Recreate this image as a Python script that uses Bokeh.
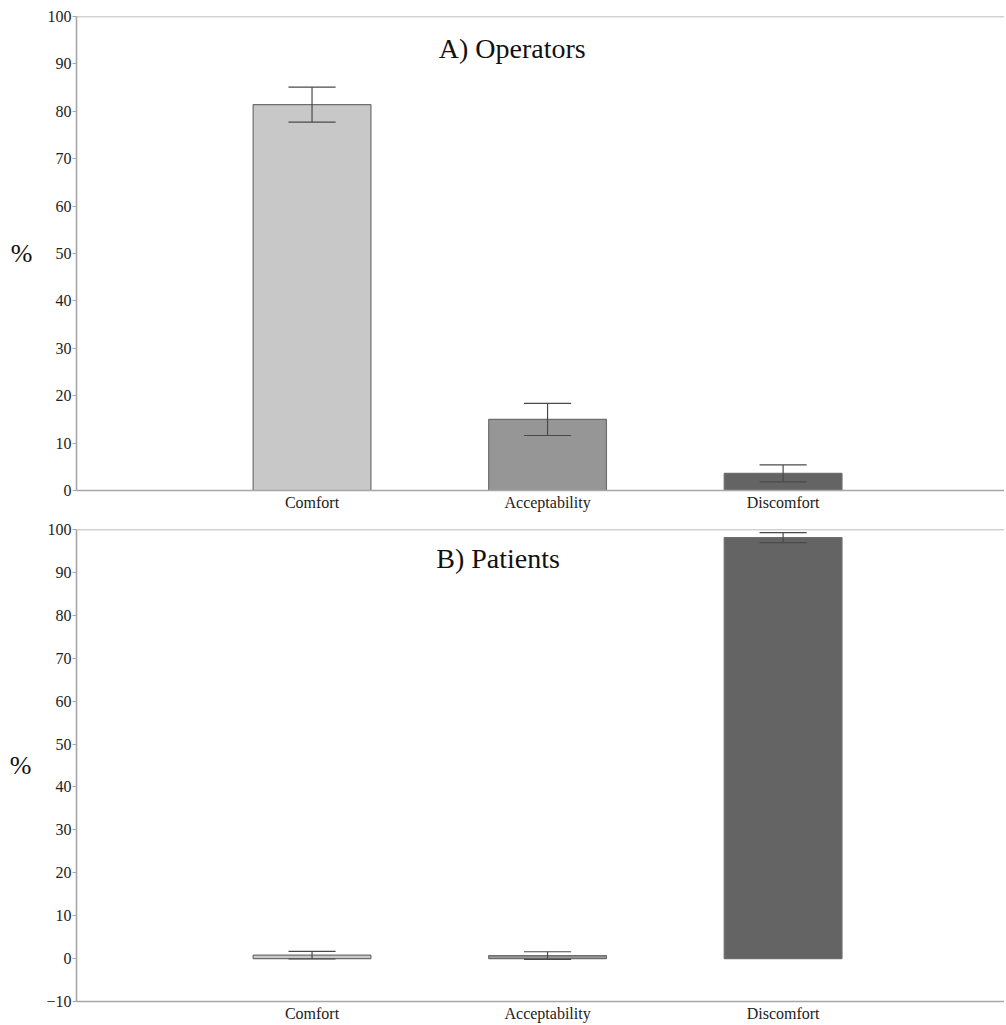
from bokeh.plotting import figure
from bokeh.layouts import column
from bokeh.models import Range1d, FixedTicker, Span, ColumnDataSource
from bokeh.core.properties import value
from bokeh.embed import file_html
from bokeh.resources import INLINE

categories = ["Comfort", "Acceptability", "Discomfort"]
positions = [1, 2, 3]
colors = ["#c8c8c8", "#969696", "#646464"]

operators_values = [81.4, 15.0, 3.6]
operators_err = [3.7, 3.4, 1.8]

patients_values = [0.8, 0.7, 98.1]
patients_err = [0.9, 0.9, 1.15]

y_ticks_top = [0, 10, 20, 30, 40, 50, 60, 70, 80, 90, 100]
y_ticks_bottom = [-10, 0, 10, 20, 30, 40, 50, 60, 70, 80, 90, 100]

AXIS_FONT = "Liberation Serif"
TEXT_FONT = "'Liberation Serif', serif"
AXIS_COLOR = "#a6a6a6"


def make_panel(vals, errs, ymin, ticks, title, title_x, frame_h, border_top, border_bottom):
    p = figure(width=1004, height=border_top + frame_h + border_bottom,
               frame_width=928, frame_height=frame_h,
               x_range=Range1d(0, 3.94), y_range=Range1d(ymin, 100),
               output_backend="svg", toolbar_location=None,
               min_border_left=76, min_border_right=0,
               min_border_top=border_top, min_border_bottom=border_bottom)
    p.outline_line_color = None
    p.xgrid.grid_line_color = None
    p.ygrid.grid_line_color = None
    p.background_fill_color = "white"

    src = ColumnDataSource(dict(
        x=positions, top=vals, color=colors,
        lo=[v - e for v, e in zip(vals, errs)],
        hi=[v + e for v, e in zip(vals, errs)],
        cl=[x - 0.1 for x in positions],
        cr=[x + 0.1 for x in positions],
    ))
    p.vbar(x="x", top="top", bottom=0, width=0.5, fill_color="color",
           line_color="#6e6e6e", line_width=1.2, source=src)
    p.segment(x0="x", y0="lo", x1="x", y1="hi", line_color="#4a4a4a", line_width=1.2, source=src)
    p.segment(x0="cl", y0="lo", x1="cr", y1="lo", line_color="#4a4a4a", line_width=1.2, source=src)
    p.segment(x0="cl", y0="hi", x1="cr", y1="hi", line_color="#4a4a4a", line_width=1.2, source=src)

    p.add_layout(Span(location=100, dimension="width", line_color=AXIS_COLOR, line_width=1.6))

    p.text(x=[title_x], y=[93.3], text=[title], text_font=value(TEXT_FONT),
           text_font_size="28px", text_align="center", text_baseline="middle",
           text_color="#111111")

    p.xaxis.ticker = FixedTicker(ticks=positions)
    p.xaxis.major_label_overrides = {pos: c for pos, c in zip(positions, categories)}
    p.xaxis.major_tick_line_color = None
    p.xaxis.major_tick_out = 0
    p.xaxis.major_tick_in = 0
    p.xaxis.minor_tick_line_color = None
    p.xaxis.axis_line_color = AXIS_COLOR
    p.xaxis.axis_line_width = 1.6
    p.xaxis.major_label_text_font = AXIS_FONT
    p.xaxis.major_label_text_font_size = "16px"
    p.xaxis.major_label_text_color = "#222222"
    p.xaxis.major_label_standoff = 3

    p.yaxis.ticker = FixedTicker(ticks=ticks)
    p.yaxis.major_tick_out = 4
    p.yaxis.major_tick_in = 0
    p.yaxis.major_tick_line_color = AXIS_COLOR
    p.yaxis.minor_tick_line_color = None
    p.yaxis.axis_line_color = AXIS_COLOR
    p.yaxis.axis_line_width = 1.6
    p.yaxis.major_label_text_font = AXIS_FONT
    p.yaxis.major_label_text_font_size = "16px"
    p.yaxis.major_label_text_color = "#222222"
    p.yaxis.major_label_standoff = 1
    p.yaxis.axis_label = "%"
    p.yaxis.axis_label_orientation = "horizontal"
    p.yaxis.axis_label_text_font = AXIS_FONT
    p.yaxis.axis_label_text_font_style = "normal"
    p.yaxis.axis_label_text_font_size = "26px"
    p.yaxis.axis_label_text_color = "#111111"
    p.yaxis.axis_label_standoff = 12
    return p


p1 = make_panel(operators_values, operators_err, 0, y_ticks_top, "A) Operators", 1.85, 474, 16, 23)
p2 = make_panel(patients_values, patients_err, -10, y_ticks_bottom, "B) Patients", 1.79, 472, 16, 22)

layout = column(p1, p2, spacing=0)
open("out.html", "w").write(file_html(layout, INLINE))
